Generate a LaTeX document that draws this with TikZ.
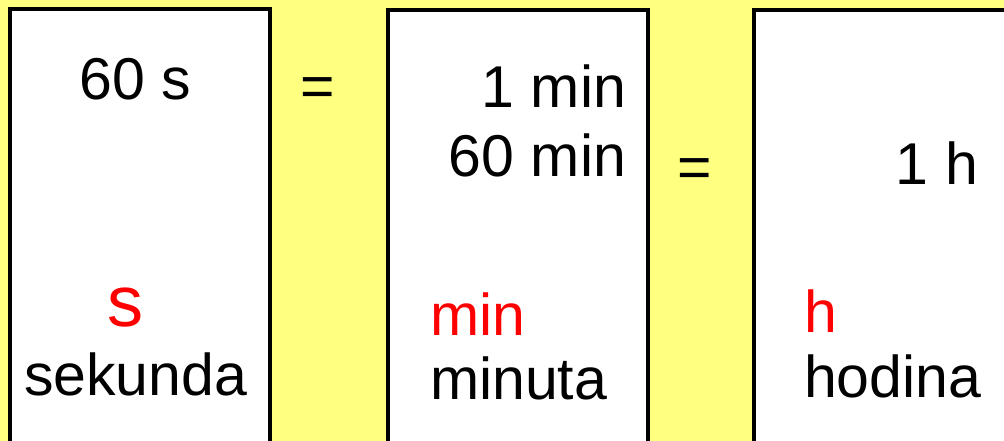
\documentclass[tikz,border=0pt]{standalone}
\usepackage{fontspec}
\setmainfont{Liberation Sans}
\definecolor{bgyellow}{RGB}{255,255,128}
\definecolor{unitred}{RGB}{255,0,0}
\begin{document}
\begin{tikzpicture}[x=1pt,y=-1pt,
  unitbox/.style={draw=black,fill=white,line width=4pt,inner sep=0pt,outer sep=0pt,rectangle},
  txt/.style={inner sep=0pt,outer sep=0pt,font=\fontsize{59}{72}\selectfont,text=black},
  redtxt/.style={txt,text=unitred}]
\useasboundingbox (0,0) rectangle (1004,441);
\clip (0,0) rectangle (1004,441);
\fill[bgyellow] (0,0) rectangle (1004,441);
% boxes
\node[unitbox,minimum width=260pt,minimum height=480pt] (box1) at (140,249) {};
\node[unitbox,minimum width=260pt,minimum height=480pt] (box2) at (518,250) {};
\node[unitbox,minimum width=300pt,minimum height=480pt] (box3) at (904,250) {};
% texts
\node[txt,anchor=base] (t60s) at (135,100) {60 s};
\node[txt,anchor=base] (eq1) at (318,107) {=};
\node[txt,anchor=base east] (t1min) at (626,108) {1 min};
\node[txt,anchor=base east] (t60min) at (626,176) {60 min};
\node[txt,anchor=base] (eq2) at (695,187) {=};
\node[txt,anchor=base east] (t1h) at (978,184) {1 h};
\node[redtxt,anchor=base,font=\fontsize{72}{80}\selectfont] (us) at (125,326) {s};
\node[txt,anchor=base west] (nsek) at (24,395) {sekunda};
\node[redtxt,anchor=base west] (umin) at (430,335) {min};
\node[txt,anchor=base west] (nmin) at (430,399) {minuta};
\node[redtxt,anchor=base west] (uh) at (804,332) {h};
\node[txt,anchor=base west] (nhod) at (804,397) {hodina};
\end{tikzpicture}
\end{document}
